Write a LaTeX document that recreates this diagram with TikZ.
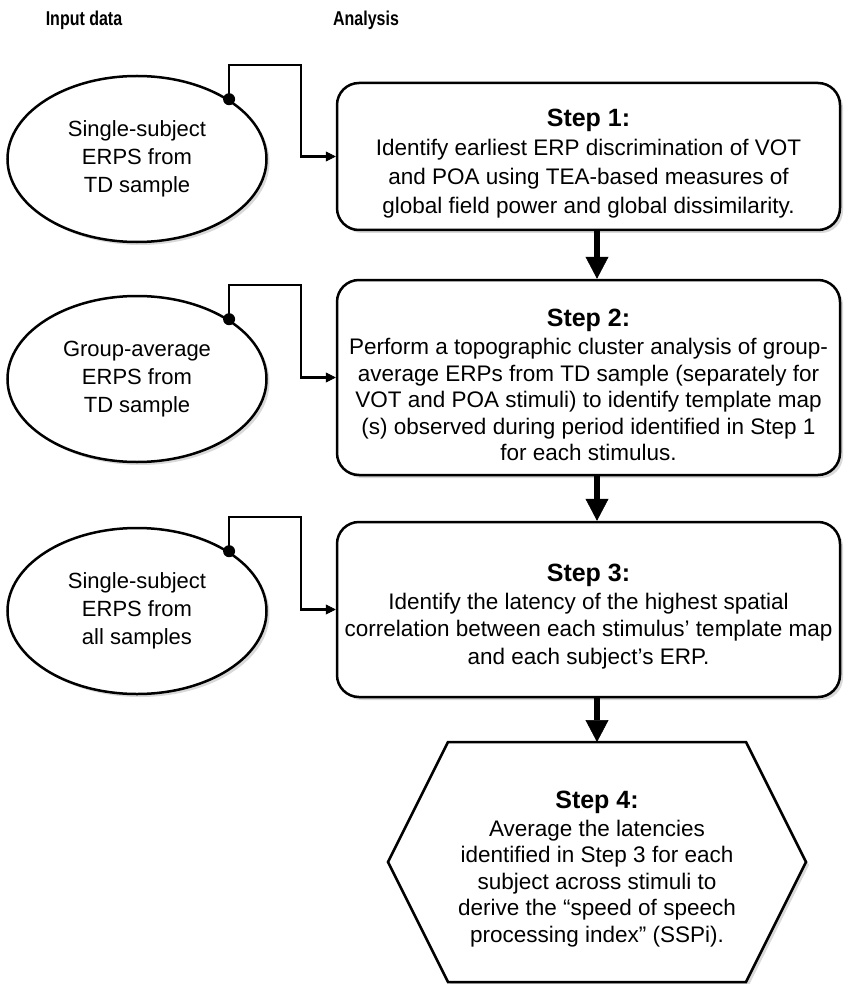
\documentclass[tikz,border=0pt]{standalone}
\usepackage{fontspec}
\setmainfont{Liberation Sans}
\newfontfamily\headfont[FakeStretch=0.8]{Liberation Sans}
\usetikzlibrary{arrows.meta, shapes.geometric, shadows, calc}

\tikzset{
  softshadow/.style={drop shadow={shadow xshift=3pt, shadow yshift=-3pt, opacity=0.3}},
  header/.style={font=\headfont\bfseries\fontsize{20}{22}\selectfont},
  stepbox/.style={draw, line width=2.5pt, rounded corners=22pt, fill=white,
    minimum width=503pt, align=center, inner sep=4pt,
    font=\fontsize{22.5}{27.5}\selectfont, softshadow},
  inputnode/.style={ellipse, draw, line width=2.5pt, fill=white,
    minimum width=259pt, minimum height=166pt, inner sep=0pt, align=center,
    font=\fontsize{22}{28}\selectfont, softshadow},
  flow/.style={line width=6pt, -{Triangle[length=22pt,width=23pt,line width=0.5pt]}},
  feed/.style={line width=2.5pt, -{Triangle[length=10pt,width=10pt,line width=0.5pt]}},
}
\newcommand{\stephead}[1]{{\fontsize{25}{30}\selectfont\bfseries\rule{0pt}{32pt}#1}}

\begin{document}
\begin{tikzpicture}[x=1pt, y=-1pt]
\useasboundingbox (0,0) rectangle (851,984);

% column heads
\node[header] (hin) at (84,20) {Input data};
\node[header] (han) at (366,20) {Analysis};

% analysis steps
\node[stepbox, minimum height=147pt, font=\fontsize{22.5}{29}\selectfont] (s1) at (588.5,156.5)
  {\stephead{Step 1:}\\
   Identify earliest ERP discrimination of VOT\\
   and POA using TEA-based measures of\\
   global field power and global dissimilarity.};
\node[stepbox, minimum height=195pt, font=\fontsize{22.5}{26.5}\selectfont] (s2) at (588.5,377.5)
  {\stephead{Step 2:}\\[2pt]
   Perform a topographic cluster analysis of group-\\
   average ERPs from TD sample (separately for\\
   VOT and POA stimuli) to identify template map\\
   (s) observed during period identified in Step 1\\
   for each stimulus.};
\node[stepbox, minimum height=175pt] (s3) at (588.5,609.5)
  {\stephead{Step 3:}\\
   Identify the latency of the highest spatial\\
   correlation between each stimulus’ template map\\
   and each subject’s ERP.};

% step 4 hexagon
\coordinate (c4) at (597,862);
\draw[line width=2.5pt, fill=white, softshadow]
  ($(c4)+(-209,0)$) -- ($(c4)+(-149,-120)$) -- ($(c4)+(149,-120)$)
  -- ($(c4)+(209,0)$) -- ($(c4)+(149,120)$) -- ($(c4)+(-149,120)$) -- cycle;
\coordinate (h4) at ($(c4)+(0,-120)$);
\node[align=center, font=\fontsize{22.5}{26.5}\selectfont] (s4) at (c4)
  {\stephead{Step 4:}\\[1pt]
   Average the latencies\\
   identified in Step 3 for each\\
   subject across stimuli to\\
   derive the “speed of speech\\
   processing index” (SSPi).};

% input data
\node[inputnode] (e1) at (137,159) {Single-subject\\ERPS from\\TD sample};
\node[inputnode] (e2) at (137,379) {Group-average\\ERPS from\\TD sample};
\node[inputnode] (e3) at (137,611) {Single-subject\\ERPS from\\all samples};

% connectors
\foreach \i in {1,2,3}{
  \draw[feed] (e\i.33) -- ++(0,-34) -| ([xshift=-35pt]s\i.west) -- (s\i.west);
  \fill (e\i.33) circle (6pt);
}
\draw[flow] (s1.south -| h4) -- (s2.north -| h4);
\draw[flow] (s2.south -| h4) -- (s3.north -| h4);
\draw[flow] (s3.south -| h4) -- (h4);
\end{tikzpicture}
\end{document}
